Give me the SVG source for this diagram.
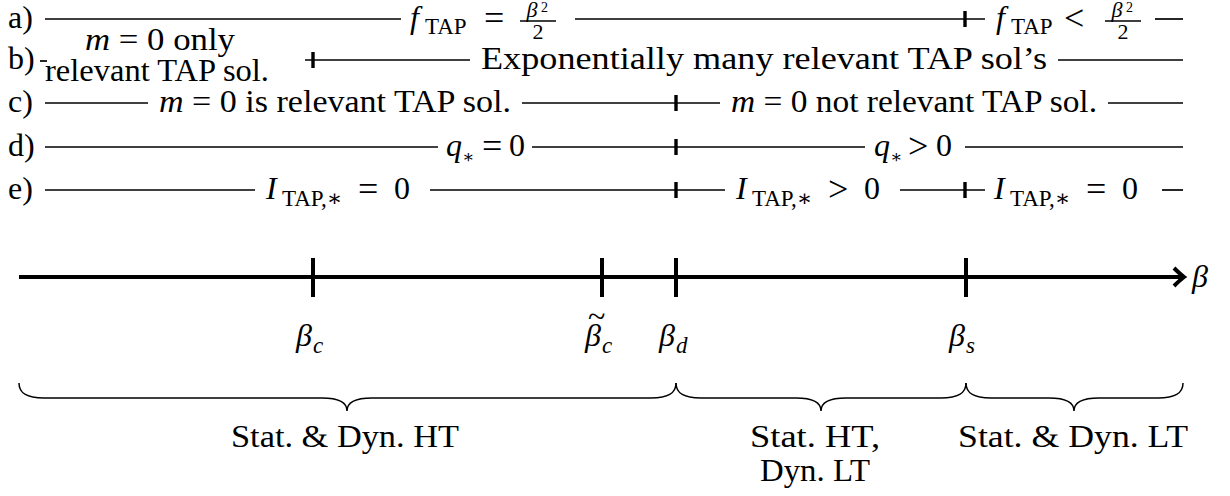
<svg xmlns="http://www.w3.org/2000/svg" width="1230" height="496" viewBox="0 0 1230 496" font-family="'Liberation Serif', 'DejaVu Serif', serif">
<style>
text{font-family:'Liberation Serif','DejaVu Serif',serif;font-size:32px;fill:#000}
.i{font-style:italic}
.s{font-size:23px}
.f{font-size:22px}
.sup{font-size:14px}
.ss{font-size:18px}
.r{font-size:36px}
.ln{stroke:#000;stroke-width:1.7;fill:none}
.tk{stroke:#000;stroke-width:3.4}
.ax{stroke:#000;stroke-width:4;fill:none}
.br{stroke:#000;stroke-width:1.5;fill:none}
.bar{stroke:#000;stroke-width:1.3}
</style>
<rect width="1230" height="496" fill="#fff"/>
<g id="connectors">
  <line class="ln" x1="45" y1="19" x2="401" y2="19"/>
  <line class="ln" x1="575" y1="19" x2="985" y2="19"/>
  <line class="tk" x1="965" y1="11" x2="965" y2="27"/>
  <line class="ln" x1="1155" y1="19" x2="1183" y2="19"/>
  <line class="ln" x1="40" y1="61" x2="47" y2="61"/>
  <line class="ln" x1="305" y1="60" x2="470" y2="60"/>
  <line class="tk" x1="313" y1="52" x2="313" y2="68"/>
  <line class="ln" x1="1058" y1="60" x2="1183" y2="60"/>
  <line class="ln" x1="45" y1="103" x2="148" y2="103"/>
  <line class="ln" x1="522" y1="103" x2="720" y2="103"/>
  <line class="tk" x1="676" y1="95" x2="676" y2="111"/>
  <line class="ln" x1="1108" y1="103" x2="1183" y2="103"/>
  <line class="ln" x1="45" y1="147" x2="438" y2="147"/>
  <line class="ln" x1="532" y1="147" x2="865" y2="147"/>
  <line class="tk" x1="676" y1="139" x2="676" y2="155"/>
  <line class="ln" x1="965" y1="147" x2="1183" y2="147"/>
  <line class="ln" x1="45" y1="190" x2="255" y2="190"/>
  <line class="ln" x1="430" y1="190" x2="725" y2="190"/>
  <line class="tk" x1="676" y1="182" x2="676" y2="198"/>
  <line class="ln" x1="900" y1="190" x2="985" y2="190"/>
  <line class="tk" x1="965" y1="182" x2="965" y2="198"/>
  <line class="ln" x1="1162" y1="190" x2="1183" y2="190"/>
  <line class="ax" x1="19" y1="277" x2="1181" y2="277"/>
  <path class="ax" d="M1174,268 Q1180,274 1184,277 Q1180,280 1174,286" stroke-width="3.5"/>
  <line class="ax" x1="313" y1="258" x2="313" y2="297"/>
  <line class="ax" x1="602" y1="258" x2="602" y2="297"/>
  <line class="ax" x1="676" y1="258" x2="676" y2="297"/>
  <line class="ax" x1="966" y1="258" x2="966" y2="297"/>
  <path class="br" d="M19,383 C19,393 26,398 44,398 L322,398 C338,398 347,402 347,411 C347,402 356,398 372,398 L651,398 C669,398 676,393 676,383"/>
  <path class="br" d="M676,383 C676,393 683,398 701,398 L796,398 C812,398 821,402 821,411 C821,402 830,398 846,398 L941,398 C959,398 966,393 966,383"/>
  <path class="br" d="M966,383 C966,393 973,398 991,398 L1049,398 C1065,398 1074,402 1074,411 C1074,402 1083,398 1099,398 L1158,398 C1176,398 1183,393 1183,383"/>
</g>
<g id="row-a">
  <text x="8" y="28">a)</text>
  <text y="28"><tspan class="i" x="410">f</tspan><tspan class="s" x="425" y="34">TAP</tspan><tspan class="r" x="484" y="30">=</tspan></text>
  <text class="f i" x="532" y="17" text-anchor="middle">β</text>
  <text class="sup" x="541" y="12">2</text>
  <line class="bar" x1="520" y1="21" x2="556" y2="21"/>
  <text class="f" x="538" y="39" text-anchor="middle">2</text>
  <text y="28"><tspan class="i" x="996">f</tspan><tspan class="s" x="1011" y="34">TAP</tspan><tspan class="r" x="1064" y="30">&lt;</tspan></text>
  <text class="f i" x="1117" y="17" text-anchor="middle">β</text>
  <text class="sup" x="1126" y="12">2</text>
  <line class="bar" x1="1105" y1="21" x2="1141" y2="21"/>
  <text class="f" x="1123" y="39" text-anchor="middle">2</text>
</g>
<g id="row-b">
  <text x="8" y="69">b)</text>
  <text x="160" y="50" text-anchor="middle" textLength="150" lengthAdjust="spacingAndGlyphs"><tspan class="i">m</tspan> = 0 only</text>
  <text x="157" y="81" text-anchor="middle" textLength="224" lengthAdjust="spacingAndGlyphs">relevant TAP sol.</text>
  <text x="764" y="69" text-anchor="middle" textLength="566" lengthAdjust="spacingAndGlyphs">Exponentially many relevant TAP sol’s</text>
</g>
<g id="row-c">
  <text x="8" y="112">c)</text>
  <text x="335" y="112" text-anchor="middle" textLength="352" lengthAdjust="spacingAndGlyphs"><tspan class="i">m</tspan> = 0 is relevant TAP sol.</text>
  <text x="914" y="112" text-anchor="middle" textLength="366" lengthAdjust="spacingAndGlyphs"><tspan class="i">m</tspan> = 0 not relevant TAP sol.</text>
</g>
<g id="row-d">
  <text x="8" y="156">d)</text>
  <text y="156"><tspan class="i" x="446">q</tspan><tspan class="ss" x="462" y="163">∗</tspan><tspan class="r" x="482" y="158">=</tspan><tspan x="509" y="156">0</tspan></text>
  <text y="156"><tspan class="i" x="874">q</tspan><tspan class="ss" x="890" y="163">∗</tspan><tspan class="r" x="908" y="158">&gt;</tspan><tspan x="936" y="156">0</tspan></text>
</g>
<g id="row-e">
  <text x="8" y="199">e)</text>
  <text y="199"><tspan class="i" x="266">I</tspan><tspan class="s" x="282" y="206">TAP,∗</tspan><tspan class="r" x="358" y="201">=</tspan><tspan x="394" y="199">0</tspan></text>
  <text y="199"><tspan class="i" x="736">I</tspan><tspan class="s" x="752" y="206">TAP,∗</tspan><tspan class="r" x="828" y="201">&gt;</tspan><tspan x="864" y="199">0</tspan></text>
  <text y="199"><tspan class="i" x="994">I</tspan><tspan class="s" x="1010" y="206">TAP,∗</tspan><tspan class="r" x="1086" y="201">=</tspan><tspan x="1122" y="199">0</tspan></text>
</g>
<g id="axis-labels">
  <text class="i" x="1192" y="287">β</text>
  <text y="346"><tspan class="i" x="296">β</tspan><tspan class="s i" x="313" y="353">c</tspan></text>
  <text y="346"><tspan class="i" x="585">β</tspan><tspan class="s i" x="602" y="353">c</tspan></text>
  <text x="588" y="327" font-size="20">~</text>
  <text y="346"><tspan class="i" x="659">β</tspan><tspan class="s i" x="676" y="353">d</tspan></text>
  <text y="346"><tspan class="i" x="949">β</tspan><tspan class="s i" x="966" y="353">s</tspan></text>
</g>
<g id="brace-labels">
  <text x="345" y="447" text-anchor="middle" textLength="228" lengthAdjust="spacingAndGlyphs">Stat. &amp; Dyn. HT</text>
  <text x="815" y="447" text-anchor="middle" textLength="130" lengthAdjust="spacingAndGlyphs">Stat. HT,</text>
  <text x="815" y="481" text-anchor="middle" textLength="110" lengthAdjust="spacingAndGlyphs">Dyn. LT</text>
  <text x="1073" y="447" text-anchor="middle" textLength="230" lengthAdjust="spacingAndGlyphs">Stat. &amp; Dyn. LT</text>
</g>
</svg>
